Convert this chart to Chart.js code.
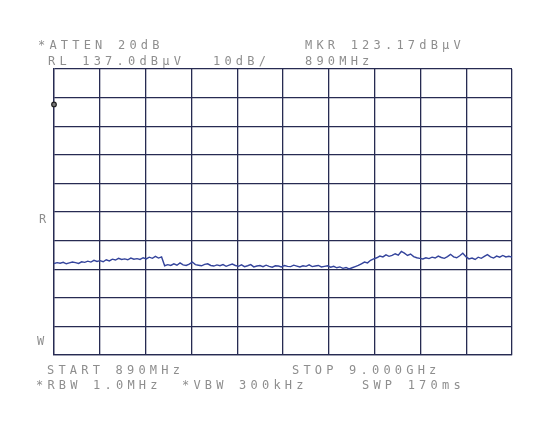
<!DOCTYPE html>
<html>
<head>
<meta charset="utf-8">
<script src="https://cdn.jsdelivr.net/npm/chart.js@4/dist/chart.umd.min.js"></script>
<style>
    body { margin: 0; background: #fff; }
    #wrap { position: relative; width: 548px; height: 424px; }
    .txt {
        position: absolute;
        font-family: "DejaVu Sans Mono", monospace;
        font-size: 12px;
        line-height: 12px;
        letter-spacing: 4.2px;
        color: #8e8e8e;
        white-space: pre;
    }
</style>
</head>
<body>
<div id="wrap">
    <canvas id="grafico" width="548" height="424"></canvas>
    <div class="txt" style="left:38px; top:39px">*ATTEN 20dB</div>
    <div class="txt" style="left:305px; top:39px">MKR 123.17dBµV</div>
    <div class="txt" style="left:48px; top:55px">RL 137.0dBµV</div>
    <div class="txt" style="left:213px; top:55px">10dB/</div>
    <div class="txt" style="left:305px; top:55px">890MHz</div>
    <div class="txt" style="left:39px; top:213px">R</div>
    <div class="txt" style="left:37px; top:335px">W</div>
    <div class="txt" style="left:47px; top:364px">START 890MHz</div>
    <div class="txt" style="left:292px; top:364px">STOP 9.000GHz</div>
    <div class="txt" style="left:36px; top:379px">*RBW 1.0MHz</div>
    <div class="txt" style="left:182px; top:379px">*VBW 300kHz</div>
    <div class="txt" style="left:362px; top:379px">SWP 170ms</div>
</div>
<script>
// sweep 890 MHz -> 9000 MHz, RL 137 dBuV, 10 dB/div
const inicioMHz = 890
const fimMHz = 9000
const passoX = 811
const refNivel = 137
const fundoNivel = 37

// nivel do traço (dBuV), da esquerda para a direita
const niveis = [
    69.0, 69.3, 69.1, 69.4, 68.9, 69.2, 69.5, 69.3, 69.0, 69.6, 69.4, 69.8, 69.5, 70.1, 69.7,
    70.0, 69.6, 70.3, 69.9, 70.5, 70.2, 70.8, 70.4, 70.6, 70.3, 70.9, 70.5, 70.7, 70.4, 71.0,
    70.6, 71.2, 70.8, 71.5, 70.9, 71.3,
    68.2,
    68.6, 68.3, 68.9, 68.4, 69.2, 68.5, 68.3, 68.8, 69.5, 68.6, 68.4, 68.2, 68.7, 68.9, 68.3,
    68.1, 68.5, 68.2, 68.6, 68.0, 68.4, 68.8, 68.3,
    68.0, 68.5, 67.9, 68.2, 68.6, 67.8, 68.1, 68.3, 67.9, 68.4, 68.0, 67.7, 68.2, 68.1, 67.8,
    68.3, 68.0, 67.9, 68.4, 68.1, 67.8, 68.2, 68.0, 68.5, 67.9, 68.1, 68.3, 67.8, 68.0, 68.2,
    67.7, 68.0, 67.5, 67.8, 67.3, 67.6, 67.1, 67.5, 67.9, 68.3,
    68.9, 69.5, 69.2, 70.1, 70.6,
    71.0, 71.6, 71.3, 72.0, 71.5, 71.8, 72.4, 71.9, 73.2, 72.6, 71.8, 72.3, 71.4, 71.0, 70.8,
    70.6, 71.0, 70.7, 71.2, 70.9, 71.6, 71.1, 70.8, 71.4, 72.2, 71.3, 71.0, 71.7, 72.6, 71.4,
    70.6, 70.9, 70.4, 71.2, 70.8, 71.5, 72.1, 71.3, 70.9, 71.6, 71.2, 71.8, 71.3, 71.5, 71.2
]

// marcador
const marcadorMHz = [890]
const marcadorNivel = [124.6]

const pontos = []
for (let i = 0; i < niveis.length; i++) {
    pontos.push({ x: inicioMHz + i * (fimMHz - inicioMHz) / (niveis.length - 1), y: niveis[i] })
}

const corGrade = '#272b52'

const config = {
    type: 'line',
    data: {
        datasets: [{
            data: pontos,
            borderColor: '#34449c',
            borderWidth: 1.4,
            pointRadius: 0,
            tension: 0,
        }, {
            data: marcadorMHz.map((f, i) => ({ x: f, y: marcadorNivel[i] })),
            showLine: false,
            clip: false,
            pointRadius: 2.3,
            pointBackgroundColor: '#777',
            pointBorderColor: '#222',
            pointBorderWidth: 1.2,
        }]
    },
    options: {
        responsive: false,
        animation: false,
        layout: { padding: { left: 54, right: 36, top: 69, bottom: 69 } },
        plugins: { legend: { display: false }, tooltip: { enabled: false } },
        scales: {
            x: {
                type: 'linear',
                min: inicioMHz,
                max: fimMHz,
                ticks: { display: false, stepSize: passoX },
                grid: { color: corGrade, lineWidth: 1.3, drawTicks: false },
                border: { color: corGrade, width: 1.3 },
            },
            y: {
                min: fundoNivel,
                max: refNivel,
                ticks: { display: false, stepSize: 10 },
                grid: { color: corGrade, lineWidth: 1.3, drawTicks: false },
                border: { color: corGrade, width: 1.3 },
            }
        }
    }
}

new Chart(document.getElementById('grafico'), config)
</script>
</body>
</html>
